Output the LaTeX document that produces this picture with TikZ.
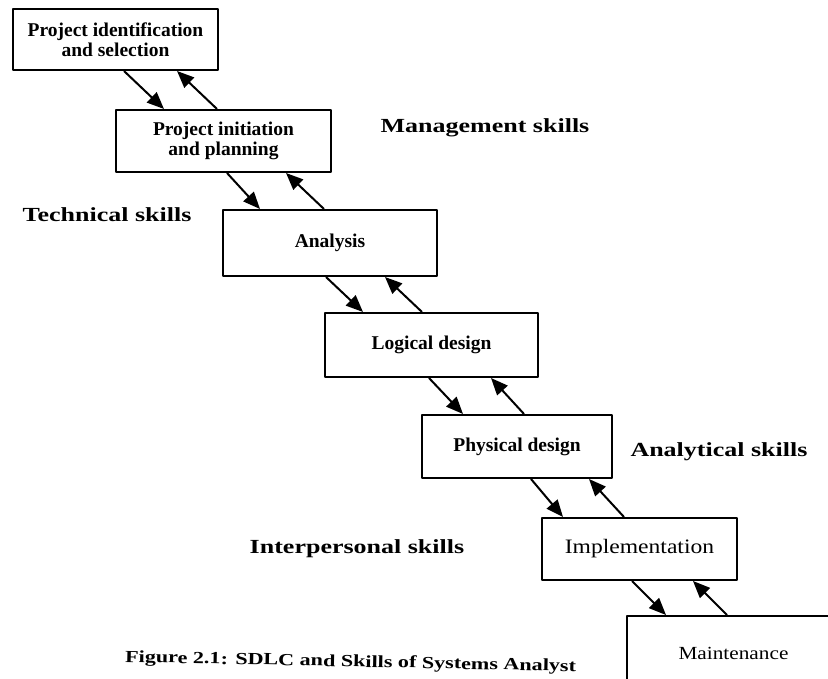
\documentclass[tikz,border=0pt]{standalone}
\usepackage{fontspec}
\setmainfont{Liberation Serif}
\newfontfamily\skillfont[FakeStretch=1.3]{Liberation Serif}
\newfontfamily\stagefont[FakeStretch=1.15]{Liberation Serif}
\usetikzlibrary{arrows.meta,positioning}

\begin{document}
\begin{tikzpicture}[x=1pt,y=-1pt,line join=round,
  phase/.style={draw,line width=2pt,inner sep=0pt,align=center,font=\bfseries\fontsize{19.5}{20}\selectfont},
  skill/.style={font=\skillfont\bfseries\fontsize{20}{22}\selectfont},
  flow/.style={line width=2pt,-{Triangle[length=17pt,width=14pt]}}]
\useasboundingbox (0,0) rectangle (828,679);
\clip (0,0) rectangle (828,679);
% the phases
\node[phase,minimum width=205pt,minimum height=61pt] (b1) at (115.5,39.5) {Project identification\\and selection};
\node[phase,minimum width=215pt,minimum height=62pt] (b2) at (223.5,141) {Project initiation\\and planning};
\node[phase,minimum width=214pt,minimum height=66pt] (b3) at (330,243) {Analysis};
\node[phase,minimum width=213pt,minimum height=64pt] (b4) at (431.5,345) {Logical design};
\node[phase,minimum width=190pt,minimum height=63pt] (b5) at (517,446.5) {Physical design};
\node[phase,minimum width=195pt,minimum height=62pt,font=\stagefont\fontsize{20.5}{22}\selectfont] (b6) at (639.5,549) {Implementation};
\node[phase,minimum width=213pt,minimum height=74pt,font=\stagefont\fontsize{18.5}{20}\selectfont] (b7) at (733.5,653) {Maintenance};
% arrows down and back up
\foreach \u/\l/\a/\b/\c/\d in {b1/b2/112/49/102/165,b2/b3/112/38/102/171,b3/b4/104/39/98/163,b4/b5/105/42/103/167,b5/b6/110/22/83/168,b6/b7/91/40/101/152}{
  \draw[flow] ([xshift=\a pt]\u.south west) -- ([xshift=\b pt]\l.north west);
  \draw[flow] ([xshift=\c pt]\l.north west) -- ([xshift=\d pt]\u.south west);
}
% skills
\node[skill] (mgmt) at (485,128) {Management skills};
\node[skill] (tech) at (107,215) {Technical skills};
\node[skill] (anal) at (719,452) {Analytical skills};
\node[skill] (inter) at (357,549) {Interpersonal skills};
\node[font=\skillfont\bfseries\fontsize{17}{19}\selectfont,anchor=base west,rotate=-1.2,inner sep=0pt] (caption) at (125,662) {Figure 2.1: SDLC and Skills of Systems Analyst};
\end{tikzpicture}
\end{document}
